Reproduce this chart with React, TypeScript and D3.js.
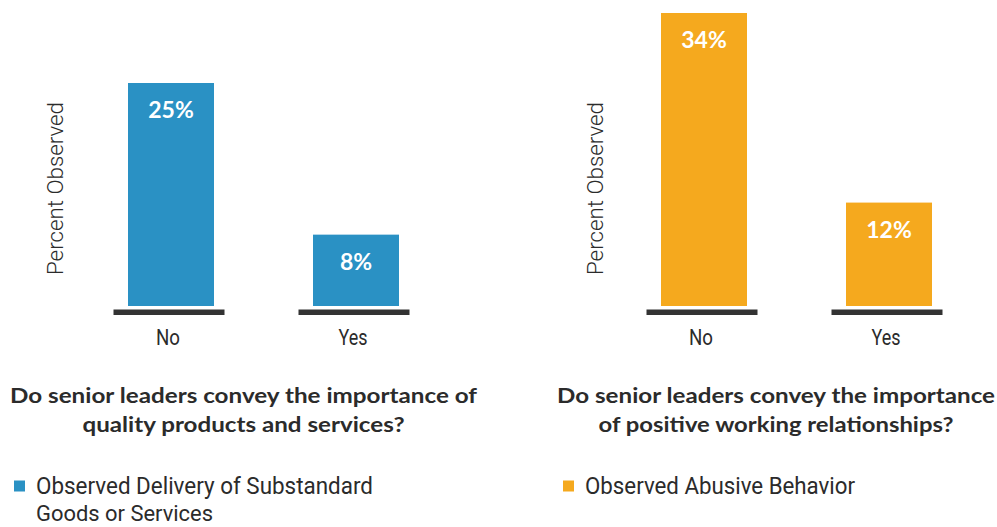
import React from "react";
import * as d3 from "d3";

const categories = ["No", "Yes"];
const qualityValues = [25, 8];
const relationshipValues = [34, 12];
const valueLabels1 = ["25%", "8%"];
const valueLabels2 = ["34%", "12%"];
const title1 = ["Do senior leaders convey the importance of", "quality products and services?"];
const title2 = ["Do senior leaders convey the importance", "of positive working relationships?"];
const legend1 = ["Observed Delivery of Substandard", "Goods or Services"];
const legend2 = ["Observed Abusive Behavior"];
const yAxisTitle = "Percent Observed";

const BLUE = "#2A91C4";
const ORANGE = "#F5A91E";
const DARK = "#2b2b2b";
const COND = "Roboto, 'Open Sans', sans-serif";
const BOLD = "Lato, 'Open Sans', sans-serif";

type PanelProps = {
  values: number[];
  labels: string[];
  color: string;
  xRange: [number, number];
  yMax: number;
  yTop: number;
  titleLines: string[];
  titleCx: number;
  titleWidths: number[];
  legendLines: string[];
  legendX: number;
  legendWidths: number[];
  axisX: number;
};

function Panel(p: PanelProps) {
  const base = 306;
  const x = d3.scaleBand<string>().domain(categories).range(p.xRange).paddingInner(99 / 185).paddingOuter(99 / 370);
  const y = d3.scaleLinear().domain([0, p.yMax]).range([base, p.yTop]);
  const bw = x.bandwidth();
  const axisLen = 111;
  return (
    <g>
      <text
        transform={`translate(${p.axisX},188.5) rotate(-90)`}
        textAnchor="middle"
        fontFamily={COND}
        fontWeight={300}
        fontSize={22}
        fill={DARK}
        textLength={173}
        lengthAdjust="spacingAndGlyphs"
      >
        {yAxisTitle}
      </text>
      {categories.map((c, i) => {
        const cx = (x(c) as number) + bw / 2;
        return (
          <g key={c}>
            <rect x={x(c)} y={y(p.values[i])} width={bw} height={base - y(p.values[i])} fill={p.color} />
            <rect x={cx - axisLen / 2 - 2} y={309.5} width={axisLen} height={5.5} fill="#333" />
            <text
              x={cx}
              y={y(p.values[i]) + 35}
              textAnchor="middle"
              fontFamily={BOLD}
              fontWeight="bold"
              fontSize={23}
              fill="#fff"
            >
              {p.labels[i]}
            </text>
            <text
              x={cx - 3}
              y={345}
              textAnchor="middle"
              fontFamily={COND}
              fontSize={22}
              fill={DARK}
              textLength={c === "No" ? 24 : 29}
              lengthAdjust="spacingAndGlyphs"
            >
              {c}
            </text>
          </g>
        );
      })}
      {p.titleLines.map((t, i) => (
        <text
          key={t}
          x={p.titleCx}
          y={403 + i * 29}
          textAnchor="middle"
          fontFamily={BOLD}
          fontWeight="bold"
          fontSize={20}
          fill={DARK}
          textLength={p.titleWidths[i]}
          lengthAdjust="spacingAndGlyphs"
        >
          {t}
        </text>
      ))}
      <rect x={p.legendX - 22} y={480.5} width={11} height={11} fill={p.color} />
      {p.legendLines.map((t, i) => (
        <text
          key={t}
          x={p.legendX}
          y={494 + i * 27}
          fontFamily={COND}
          fontSize={i === 0 ? 23 : 22}
          fill={DARK}
          textLength={p.legendWidths[i]}
          lengthAdjust="spacingAndGlyphs"
        >
          {t}
        </text>
      ))}
    </g>
  );
}

export default function App() {
  return (
    <svg width={997} height={527} style={{ position: "absolute", left: 0, top: 0, background: "#fff" }}>
      <Panel
        values={qualityValues}
        labels={valueLabels1}
        color={BLUE}
        xRange={[78.5, 448.5]}
        yMax={25}
        yTop={83}
        titleLines={title1}
        titleCx={243.5}
        titleWidths={[467, 322]}
        legendLines={legend1}
        legendX={36}
        legendWidths={[337, 177]}
        axisX={63}
      />
      <Panel
        values={relationshipValues}
        labels={valueLabels2}
        color={ORANGE}
        xRange={[611.5, 981.5]}
        yMax={34}
        yTop={13}
        titleLines={title2}
        titleCx={776}
        titleWidths={[438, 355]}
        legendLines={legend2}
        legendX={585}
        legendWidths={[270]}
        axisX={603}
      />
    </svg>
  );
}
